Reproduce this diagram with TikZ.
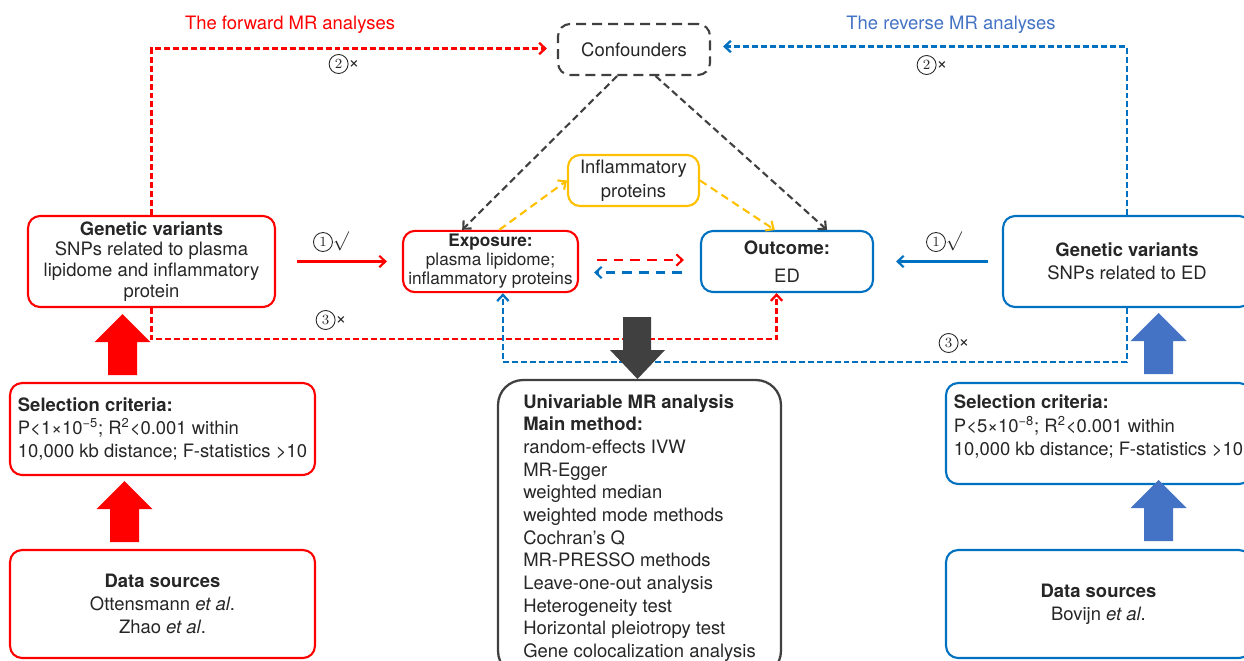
\documentclass[tikz,border=0pt]{standalone}
\usepackage[no-math]{fontspec}
\setmainfont{TeX Gyre Heros}
\usetikzlibrary{arrows.meta,calc}

\definecolor{fwdred}{HTML}{FF0000}
\definecolor{revblue}{HTML}{0070C0}
\definecolor{titleblue}{HTML}{4472C4}
\definecolor{inflyellow}{HTML}{FFC000}
\definecolor{confgray}{HTML}{404040}
\definecolor{textgray}{HTML}{262626}

% circled step number
\newcommand\cnum[1]{\tikz[baseline=(cn.base)]\node[draw=textgray, circle, line width=0.5pt, minimum size=0.38cm, inner sep=0pt] (cn) {\fontsize{8.5}{9}\selectfont$#1$};}

\tikzset{
    box/.style={draw, rounded corners=0.24cm, line width=1.2pt, align=center, inner sep=2pt},
    redbox/.style={box, draw=fwdred},
    bluebox/.style={box, draw=revblue},
    confbox/.style={box, draw=confgray, dash pattern=on 5.7pt off 3.4pt, minimum width=3.04cm, minimum height=1.02cm},
    inflbox/.style={box, draw=inflyellow, minimum width=2.62cm, minimum height=1.02cm, font=\fontsize{10.5}{13.6}\selectfont},
    selbox/.style={align=left, minimum width=6.1cm},
    mainbox/.style={draw=confgray, line width=1.3pt, rounded corners=0.5cm, align=left,
        minimum width=5.66cm, minimum height=5.92cm, font=\fontsize{10.5}{12.9}\selectfont},
    barb/.style={-{Straight Barb[length=3.5pt,width=6.5pt]}},
    fwdline/.style={draw=fwdred, line width=1.3pt, dash pattern=on 3.4pt off 1.7pt},
    revline/.style={draw=revblue, line width=1.3pt, dash pattern=on 3.4pt off 1.7pt},
    confline/.style={draw=confgray, line width=1.2pt, dash pattern=on 4pt off 2.3pt},
    infline/.style={draw=inflyellow, line width=1.2pt, dash pattern=on 4.5pt off 2.8pt},
    pairline/.style={line width=1.2pt, dash pattern=on 5.5pt off 4pt}
}

\begin{document}
\begin{tikzpicture}[x=0.02cm, y=-0.02cm, font=\fontsize{10.5}{13.3}\selectfont, text=textgray]
    \useasboundingbox (0,0) rectangle (1244,660);
    \clip (0,0) rectangle (1244,660);

    % titles
    \node[text=fwdred] (fwdtitle) at (290,25) {The forward MR analyses};
    \node[text=titleblue] (revtitle) at (951,25) {The reverse MR analyses};

    % confounders, exposure, outcome
    \node[confbox] (conf) at (634,49.5) {Confounders};
    \node[inflbox] (infl) at (633.5,180.5) {Inflammatory\\proteins};
    \node[redbox, minimum width=3.5cm, minimum height=1.22cm, font=\fontsize{9.8}{10.8}\selectfont] (expo) at (490.5,261.5)
        {\textbf{Exposure:}\\plasma lipidome;\\inflammatory proteins};
    \node[bluebox, minimum width=3.44cm, minimum height=1.22cm, font=\fontsize{10.5}{13}\selectfont] (outc) at (787,261.5)
        {\textbf{Outcome:}\\[3pt]ED};

    % genetic variants
    \node[redbox, minimum width=4.94cm, minimum height=1.82cm, font=\fontsize{10.5}{11.9}\selectfont] (gvL) at (151.5,261.5)
        {\textbf{Genetic variants}\\SNPs related to plasma\\lipidome and inflammatory\\protein};
    \node[bluebox, minimum width=4.96cm, minimum height=1.82cm] (gvR) at (1127,261.5)
        {\textbf{Genetic variants}\\SNPs related to ED};

    % selection criteria
    \node[redbox, selbox, minimum height=1.84cm] (selL) at (162.5,429)
        {\textbf{Selection criteria:}\\P<1×10\textsuperscript{−5}; R\textsuperscript{2}<0.001 within\\10,000 kb distance; F-statistics >10};
    \node[bluebox, selbox, minimum height=2.02cm] (selR) at (1098.5,433.5)
        {\textbf{Selection criteria:}\\P<5×10\textsuperscript{−8}; R\textsuperscript{2}<0.001 within\\10,000 kb distance; F-statistics >10\\[-4pt]};

    % data sources
    \node[redbox, minimum width=6.1cm, minimum height=2.16cm] (dsL) at (162.5,604)
        {\textbf{Data sources}\\Ottensmann \textit{et al}.\\Zhao \textit{et al}.};
    \node[bluebox, minimum width=6.1cm, minimum height=2.16cm] (dsR) at (1098.5,604)
        {\textbf{Data sources}\\Bovijn \textit{et al}.};

    % methods
    \node[mainbox] (main) at (639.5,528)
        {\textbf{Univariable MR analysis}\\\textbf{Main method:}\\random-effects IVW\\MR-Egger\\weighted median\\
         weighted mode methods\\Cochran’s Q\\MR-PRESSO methods\\Leave-one-out analysis\\
         Heterogeneity test\\Horizontal pleiotropy test\\Gene colocalization analysis};

    % confounding paths
    \draw[confline, barb] ($(conf.south west)!0.39!(conf.south east)$) -- ($(expo.north west)!0.34!(expo.north east)$);
    \draw[confline, barb] ($(conf.south west)!0.64!(conf.south east)$) -- ($(outc.north west)!0.73!(outc.north east)$);
    \draw[infline, barb] ($(expo.north west)!0.55!(expo.north east)$) -- (infl.west);
    \draw[infline, barb] (infl.east) -- ($(outc.north west)!0.43!(outc.north east)$);

    % exposure <-> outcome
    \draw[pairline, draw=fwdred, barb, shorten <=0.36cm, shorten >=0.32cm] ([yshift=0.03cm]expo.east) -- ([yshift=0.03cm]outc.west);
    \draw[pairline, draw=revblue, barb, shorten <=0.36cm, shorten >=0.3cm] ([yshift=-0.22cm]outc.west) -- ([yshift=-0.22cm]expo.east);

    % assumption 1
    \draw[fwdred, line width=1.2pt, barb, shorten <=0.42cm, shorten >=0.3cm] (gvL.east) -- (expo.west);
    \draw[revblue, line width=1.2pt, barb, shorten <=0.28cm, shorten >=0.44cm] (gvR.west) -- (outc.east);

    % assumptions 2 and 3
    \draw[fwdline, barb] (gvL.north) |- ([xshift=-0.2cm, yshift=0.02cm]conf.west);
    \draw[revline, barb] (gvR.north) |- ([xshift=0.24cm, yshift=0.06cm]conf.east);
    \draw[fwdline, barb] (gvL.south) -- ++(0,31) -| ($(outc.south west)!0.44!(outc.south east)$);
    \draw[revline, barb] (gvR.south) -- ++(0,54) -| ($(expo.south west)!0.57!(expo.south east)$);

    \node (fwd1) at (331,242) {\cnum{1}$\surd$};
    \node (rev1) at (944,242) {\cnum{1}$\surd$};
    \node (fwd2) at (344,64) {\cnum{2}×};
    \node (rev2) at (932,65) {\cnum{2}×};
    \node (fwd3) at (331,320) {\cnum{3}×};
    \node (rev3) at (954,343) {\cnum{3}×};

    % block arrows
    \foreach \ax/\ay/\col in {122.5/314/fwdred, 124.5/481/fwdred, 1158.5/313/titleblue, 1158.5/480/titleblue}
        \fill[\col] (\ax-14.5,\ay+61) -- (\ax-14.5,\ay+28) -- (\ax-28,\ay+28) -- (\ax,\ay)
            -- (\ax+28,\ay+28) -- (\ax+14.5,\ay+28) -- (\ax+14.5,\ay+61) -- cycle;
    \fill[confgray] (623,317) -- (651,317) -- (651,350) -- (665,350) -- (637.5,379) -- (610,350) -- (623,350) -- cycle;
\end{tikzpicture}
\end{document}
